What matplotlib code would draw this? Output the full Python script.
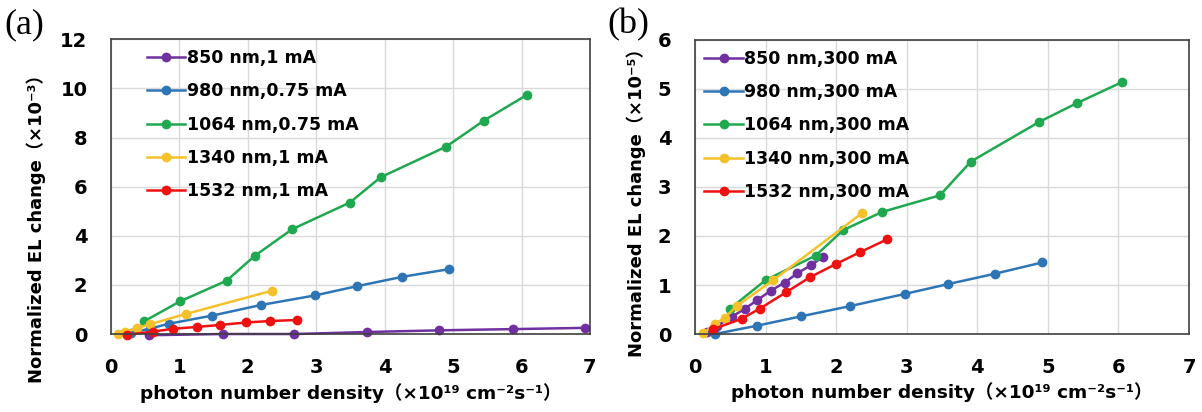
import matplotlib
matplotlib.use("Agg")
import matplotlib.pyplot as plt

# ---------------------------------------------------------------------------
# Data (x: photon number density x1e19 cm^-2 s^-1)
# ---------------------------------------------------------------------------

labels_a = ["850 nm,1 mA", "980 nm,0.75 mA", "1064 nm,0.75 mA", "1340 nm,1 mA", "1532 nm,1 mA"]
labels_b = ["850 nm,300 mA", "980 nm,300 mA", "1064 nm,300 mA", "1340 nm,300 mA", "1532 nm,300 mA"]
colors = ["#7030A0", "#2E75B6", "#1FA84F", "#F5C12A", "#EE1111"]

# panel (a), y in 1e-3
x_850_a = [0.55, 1.64, 2.68, 3.74, 4.80, 5.88, 6.93]
y_850_a = [-0.05, 0.0, 0.0, 0.08, 0.15, 0.20, 0.25]
x_980_a = [0.30, 0.57, 0.85, 1.48, 2.19, 2.98, 3.60, 4.26, 4.94]
y_980_a = [0.05, 0.22, 0.42, 0.75, 1.18, 1.57, 1.95, 2.33, 2.64]
x_1064_a = [0.48, 1.01, 1.69, 2.10, 2.65, 3.49, 3.94, 4.90, 5.45, 6.08]
y_1064_a = [0.51, 1.33, 2.17, 3.18, 4.27, 5.35, 6.38, 7.63, 8.69, 9.74]
x_1340_a = [0.10, 0.20, 0.38, 0.57, 1.10, 2.35]
y_1340_a = [0.02, 0.08, 0.23, 0.40, 0.82, 1.76]
x_1532_a = [0.23, 0.62, 0.90, 1.26, 1.60, 1.98, 2.33, 2.72]
y_1532_a = [-0.03, 0.10, 0.21, 0.29, 0.37, 0.47, 0.53, 0.57]

# panel (b), y in 1e-5
x_850_b = [0.17, 0.31, 0.52, 0.71, 0.88, 1.07, 1.27, 1.45, 1.64, 1.82]
y_850_b = [0.04, 0.16, 0.35, 0.52, 0.69, 0.88, 1.05, 1.24, 1.40, 1.58]
x_980_b = [0.28, 0.88, 1.50, 2.20, 2.98, 3.59, 4.25, 4.92]
y_980_b = [0.00, 0.17, 0.36, 0.57, 0.82, 1.02, 1.23, 1.46]
x_1064_b = [0.50, 1.00, 1.71, 2.10, 2.65, 3.47, 3.91, 4.88, 5.41, 6.05]
y_1064_b = [0.52, 1.10, 1.60, 2.12, 2.49, 2.83, 3.52, 4.33, 4.71, 5.14]
x_1340_b = [0.12, 0.28, 0.42, 0.59, 1.11, 2.37]
y_1340_b = [0.02, 0.20, 0.33, 0.57, 1.10, 2.47]
x_1532_b = [0.26, 0.66, 0.92, 1.29, 1.63, 2.00, 2.34, 2.72]
y_1532_b = [0.10, 0.31, 0.52, 0.85, 1.16, 1.43, 1.67, 1.93]

series_a = [(x_850_a, y_850_a), (x_980_a, y_980_a), (x_1064_a, y_1064_a),
            (x_1340_a, y_1340_a), (x_1532_a, y_1532_a)]
series_b = [(x_850_b, y_850_b), (x_980_b, y_980_b), (x_1064_b, y_1064_b),
            (x_1340_b, y_1340_b), (x_1532_b, y_1532_b)]

xlabel = "photon number density（×10¹⁹ cm⁻²s⁻¹）"
label_fonts = ["DejaVu Sans", "Noto Sans CJK JP"]


def style_axes(ax, ymax, ystep):
    ax.set_xlim(0, 7)
    ax.set_ylim(0, ymax)
    ax.set_xticks(range(0, 8))
    ax.set_yticks(range(0, ymax + 1, ystep))
    ax.grid(True, color="#D9D9D9", linewidth=1.0)
    ax.set_axisbelow(True)
    for sp in ax.spines.values():
        sp.set_color("#404040")
        sp.set_linewidth(1.2)
    ax.tick_params(length=0, labelsize=14, pad=17)
    for t in ax.get_xticklabels() + ax.get_yticklabels():
        t.set_fontweight("bold")


def draw_panel(ax, series, labels, ymax, ystep, ylabel, leg_x):
    for (x, y), lab, c in zip(series, labels, colors):
        ax.plot(x, y, color=c, marker="o", markersize=6, linewidth=1.8,
                label=lab, clip_on=False)
    style_axes(ax, ymax, ystep)
    ax.set_xlabel(xlabel, fontsize=13.3, fontweight="bold", family=label_fonts)
    ax.set_ylabel(ylabel, fontsize=13, fontweight="bold", family=label_fonts)
    ax.legend(loc="upper left", bbox_to_anchor=(leg_x, 0.99), frameon=False,
              prop={"size": 12.5, "weight": "bold"}, handlelength=2.2,
              handletextpad=0.1, labelspacing=0.88, borderaxespad=0)


fig = plt.figure(figsize=(12.02, 4.12), dpi=100)
ax_a = fig.add_axes([0.0923, 0.1893, 0.3985, 0.7153])
ax_b = fig.add_axes([0.5782, 0.1893, 0.4110, 0.7137])

draw_panel(ax_a, series_a, labels_a, 12, 2, "Normalized EL change（×10⁻³）", 0.06)
draw_panel(ax_b, series_b, labels_b, 6, 1, "Normalized EL change（×10⁻⁵）", 0.005)

ax_a.yaxis.set_label_coords(-0.135, 0.373)
ax_b.yaxis.set_label_coords(-0.10, 0.46)
ax_a.xaxis.set_label_coords(0.50, -0.165)
ax_b.xaxis.set_label_coords(0.50, -0.165)

fig.text(0.004, 0.94, "(a)", fontsize=26, family="Liberation Serif", va="center")
fig.text(0.505, 0.94, "(b)", fontsize=26, family="Liberation Serif", va="center")

fig.savefig("out.png", dpi=100)
plt.close(fig)
